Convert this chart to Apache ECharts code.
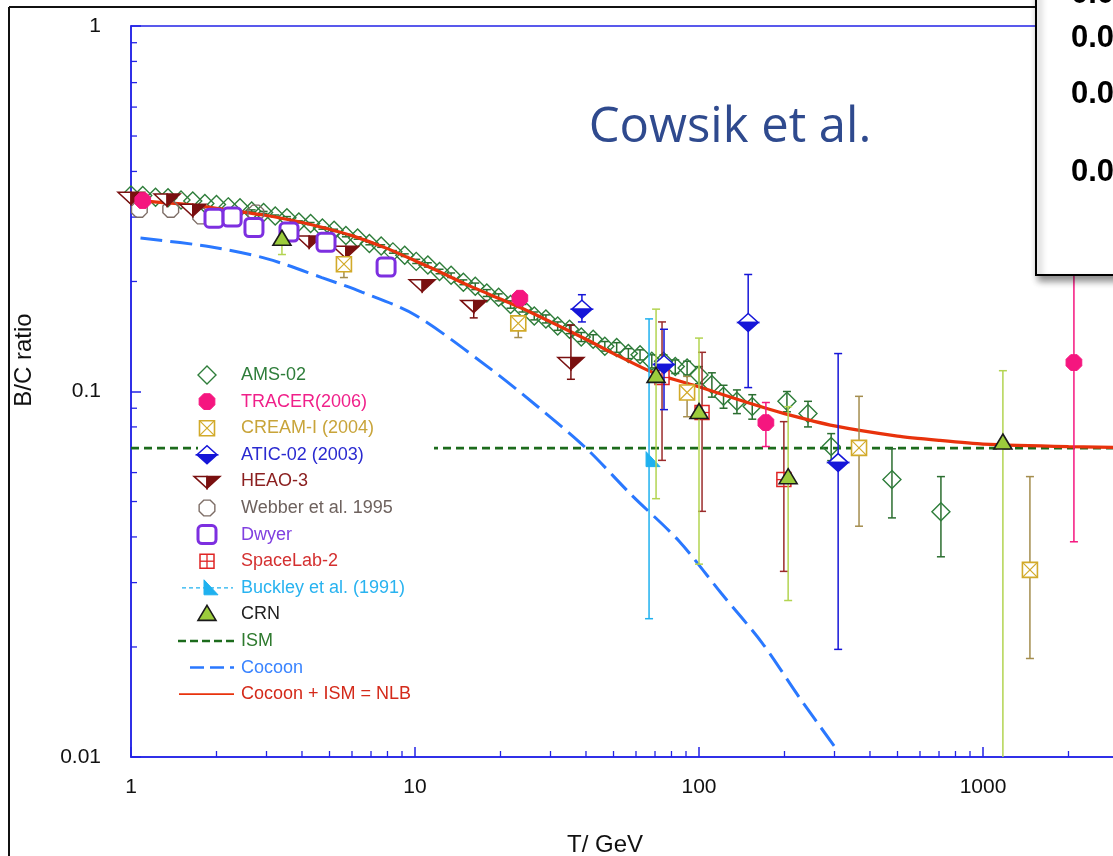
<!DOCTYPE html>
<html>
<head>
<meta charset="utf-8">
<script src="https://cdn.jsdelivr.net/npm/echarts@6/dist/echarts.min.js"></script>
<style>
html,body{margin:0;padding:0;background:#fff;overflow:hidden}
#chart{width:1113px;height:856px}
</style>
</head>
<body>
<div id="chart"></div>
<script>
// ---- tick labels ----
const xTickLabels = ['1', '10', '100', '1000', '10000'];
const yTickLabels = ['0.01', '0.1', '1'];

// ---- measurements: [T (GeV), B/C, lower, upper] ----
// AMS-02 rows are [T, B/C, symmetric error]
const ams02 = [
  [1.0,0.345,0.002],[1.1,0.344,0.002],[1.22,0.340,0.002],[1.35,0.339,0.002],[1.5,0.334,0.002],
  [1.65,0.332,0.002],[1.82,0.327,0.002],[2.0,0.325,0.002],[2.2,0.320,0.002],[2.42,0.318,0.002],
  [2.66,0.312,0.002],[2.93,0.309,0.002],[3.22,0.302,0.002],[3.54,0.299,0.002],[3.9,0.291,0.002],
  [4.29,0.288,0.002],[4.72,0.280,0.002],[5.19,0.276,0.002],[5.71,0.267,0.002],[6.28,0.263,0.002],
  [6.91,0.254,0.002],[7.6,0.250,0.002],[8.36,0.241,0.002],[9.2,0.236,0.002],[10.1,0.227,0.003],
  [11.1,0.222,0.003],[12.2,0.213,0.003],[13.4,0.208,0.003],[14.8,0.199,0.003],[16.3,0.194,0.004],
  [17.9,0.186,0.004],[19.7,0.181,0.004],[21.7,0.173,0.004],[23.9,0.169,0.004],[26.3,0.161,0.004],
  [28.9,0.158,0.004],[31.8,0.151,0.004],[35.0,0.148,0.004],[38.5,0.141,0.004],[42.4,0.139,0.004],
  [46.6,0.133,0.004],[51.3,0.132,0.004],[56.4,0.127,0.004],[62.0,0.126,0.004],[68.2,0.121,0.005],
  [75.0,0.121,0.005],[82.5,0.117,0.005],[90.8,0.116,0.005],[100,0.111,0.006],[111,0.1045,0.008],
  [122,0.097,0.007],[136,0.094,0.007],[154,0.091,0.007],[204,0.094,0.006],[242,0.087,0.007],
  [292,0.0707,0.006],[478,0.0574,0.0123],[711,0.0469,0.0116]
];
const tracer = [[1.1,0.333,0.333,0.333],[23.4,0.180,0.180,0.180],[172,0.0822,0.0707,0.0933],[2090,0.120,0.0388,0.25]];
const creamI = [[5.62,0.223,0.205,0.229],[23.1,0.1536,0.1405,0.158],[90.8,0.0994,0.0853,0.110],[366,0.0701,0.0428,0.097],[1463,0.0325,0.0186,0.0585]];
const atic02 = [[38.7,0.168,0.155,0.184],[75.3,0.1186,0.0892,0.148],[149,0.1545,0.1025,0.209],[309,0.0639,0.0197,0.127]];
const heao3 = [[1.0,0.340,0.340,0.340],[1.34,0.336,0.336,0.336],[1.65,0.315,0.315,0.315],[4.24,0.258,0.258,0.258],[5.71,0.242,0.242,0.242],[10.6,0.196,0.196,0.196],[16.1,0.172,0.159,0.172],[35.4,0.120,0.108,0.152]];
const webber = [[1.07,0.315,0.315,0.315],[1.38,0.315,0.315,0.315],[1.76,0.302,0.302,0.302],[2.75,0.308,0.308,0.308]];
const dwyer = [[1.96,0.298,0.298,0.298],[2.27,0.300,0.300,0.300],[2.71,0.281,0.281,0.281],[3.60,0.273,0.273,0.273],[4.86,0.256,0.256,0.256],[7.91,0.219,0.219,0.219]];
const spacelab2 = [[74.1,0.1092,0.0648,0.155],[102.5,0.0876,0.0470,0.128],[199,0.0574,0.0322,0.0827]];
const buckley = [[66.7,0.0651,0.0239,0.158]];
const crn = [[3.40,0.261,0.237,0.261],[70.6,0.110,0.0509,0.168],[100,0.0876,0.0337,0.140],[206,0.0581,0.0268,0.0909],[1175,0.0723,0.01,0.114]];

// ---- model curves: [T, B/C] ----
const ismLevel = [[1,0.07],[10000,0.07]];
const cocoon = [[1.08,0.263],[1.9,0.249],[3,0.231],[4.7,0.205],[6.5,0.187],[10,0.162],[18,0.117],[27,0.091],[40,0.070],[58,0.052],[85,0.039],[120,0.028],[167,0.0205],[225,0.0146],[305,0.0105]];
const nlb = [[1,0.334],[1.5,0.326],[2,0.317],[3,0.303],[4,0.290],[5,0.278],[6,0.267],[8,0.246],[10,0.228],[12,0.214],[15,0.197],[20,0.179],[25,0.166],[30,0.155],[40,0.139],[50,0.127],[70,0.112],[100,0.103],[150,0.093],[200,0.087],[300,0.0805],[500,0.0755],[700,0.0735],[1000,0.0718],[2000,0.0707],[5000,0.0700],[10000,0.0700]];

// ---- styling ----
const FONT = '"Liberation Sans", Arial, sans-serif';
const AXIS = '#2323e6';
const C = {
  ams:'#2e7d3a', amsBar:'#2b6e30', tracer:'#f5167f', cream:'#d2aa2a', creamBar:'#a48d4e',
  atic:'#1616d8', heao:'#7a1010', webber:'#7d6d66', dwyer:'#7d2fe0', spacelab:'#e02424',
  spacelabBar:'#9b2b2b', buckley:'#1fb1ef', crn:'#9ccc3c', crnBar:'#b3d451',
  ism:'#1c6b1c', cocoon:'#2a78ff', nlb:'#e8320c'
};

function oct(x, y, r) {
  const pts = [];
  for (let i = 0; i < 8; i++) {
    const a = (i * 45 + 22.5) * Math.PI / 180;
    pts.push([x + r * Math.cos(a), y + r * Math.sin(a)]);
  }
  return pts;
}
function ln(x1, y1, x2, y2, color, w, dash) {
  const s = {stroke: color, lineWidth: w};
  if (dash) s.lineDash = dash;
  return {type:'line', shape:{x1, y1, x2, y2}, style: s};
}

// marker shapes, centred on (x, y)
const MARKS = {
  ams: (x,y)=>[{type:'polygon',shape:{points:[[x,y-9],[x+9,y],[x,y+9],[x-9,y]]},style:{fill:'none',stroke:C.ams,lineWidth:1.4}}],
  tracer: (x,y)=>[{type:'polygon',shape:{points:oct(x,y,8.5)},style:{fill:C.tracer,stroke:C.tracer,lineWidth:1}}],
  cream: (x,y)=>[
    {type:'rect',shape:{x:x-7.5,y:y-7.5,width:15,height:15},style:{fill:'#fff',stroke:C.cream,lineWidth:1.6}},
    ln(x-7.5,y-7.5,x+7.5,y+7.5,C.cream,1.2), ln(x+7.5,y-7.5,x-7.5,y+7.5,C.cream,1.2)],
  atic: (x,y)=>[
    {type:'polygon',shape:{points:[[x-10,y],[x,y-9],[x+10,y]]},style:{fill:'#fff',stroke:C.atic,lineWidth:1.5}},
    {type:'polygon',shape:{points:[[x-10,y],[x+10,y],[x,y+9]]},style:{fill:C.atic,stroke:C.atic,lineWidth:1.5}}],
  heao: (x,y)=>[
    {type:'polygon',shape:{points:[[x-13,y-5],[x,y-5],[x,y+7]]},style:{fill:'#fff',stroke:C.heao,lineWidth:1.5}},
    {type:'polygon',shape:{points:[[x,y-5],[x+13,y-5],[x,y+7]]},style:{fill:C.heao,stroke:C.heao,lineWidth:1.5}}],
  webber: (x,y)=>[{type:'polygon',shape:{points:oct(x,y,8.5)},style:{fill:'none',stroke:C.webber,lineWidth:1.4}}],
  dwyer: (x,y)=>[{type:'rect',shape:{x:x-9,y:y-9,width:18,height:18,r:4},style:{fill:'#fff',stroke:C.dwyer,lineWidth:3}}],
  spacelab: (x,y)=>[
    {type:'rect',shape:{x:x-7,y:y-7,width:14,height:14},style:{fill:'#fff',stroke:C.spacelab,lineWidth:1.5}},
    ln(x-7,y,x+7,y,C.spacelab,1.3), ln(x,y-7,x,y+7,C.spacelab,1.3)],
  buckley: (x,y)=>[{type:'polygon',shape:{points:[[x-3,y-8],[x-3,y+7],[x+11,y+7]]},style:{fill:C.buckley,stroke:C.buckley,lineWidth:1}}],
  crn: (x,y)=>[{type:'polygon',shape:{points:[[x,y-9],[x+9,y+6],[x-9,y+6]]},style:{fill:C.crn,stroke:'#1a1a1a',lineWidth:1.6}}]
};

// points with vertical error bars, placed through the axes' own scales
function pointSeries(name, rows, mark, barColor, z) {
  return {
    type:'custom', name, coordinateSystem:'cartesian2d', data: rows,
    encode:{x:0, y:1}, clip:false, z, silent:true,
    renderItem:(params, api)=>{
      const t = api.value(0);
      const p = api.coord([t, api.value(1)]);
      const lo = api.coord([t, api.value(2)]);
      const hi = api.coord([t, api.value(3)]);
      const els = [];
      if (lo[1] - hi[1] > 2) {
        els.push(ln(p[0], hi[1], p[0], lo[1], barColor, 1.5));
        els.push(ln(p[0]-4, hi[1], p[0]+4, hi[1], barColor, 1.5));
        if (api.value(2) > 0.0101) els.push(ln(p[0]-4, lo[1], p[0]+4, lo[1], barColor, 1.5));
      }
      return {type:'group', children: els.concat(mark(p[0], p[1]))};
    }
  };
}

// minor ticks of the log axes (2..9 within each decade)
const xMinor = [], yMinor = [];
[1, 10, 100, 1000].forEach(d => { for (let k = 2; k <= 9; k++) xMinor.push([k*d, 0.01]); });
[0.01, 0.1].forEach(d => { for (let k = 2; k <= 9; k++) yMinor.push([1, +(k*d).toFixed(3)]); });

const chart = echarts.init(document.getElementById('chart'), null, {renderer:'canvas'});

// legend rows
const legendRows = [
  ['AMS-02', 'ams', '#2e7d3a'],
  ['TRACER(2006)', 'tracer', '#f0208a'],
  ['CREAM-I (2004)', 'cream', '#c8a43a'],
  ['ATIC-02 (2003)', 'atic', '#2a2ad0'],
  ['HEAO-3', 'heao', '#8b2020'],
  ['Webber et al. 1995', 'webber', '#6e625e'],
  ['Dwyer', 'dwyer', '#8040e0'],
  ['SpaceLab-2', 'spacelab', '#d43030'],
  ['Buckley et al. (1991)', 'buckley', '#29b3f0'],
  ['CRN', 'crn', '#222222'],
  ['ISM', 'ism', '#2e7a2e'],
  ['Cocoon', 'cocoon', '#3a84ff'],
  ['Cocoon + ISM = NLB', 'nlb', '#d42a1a']
];
const legendEls = [{type:'rect', shape:{x:198, y:362, width:236, height:344}, style:{fill:'#fff'}}];
legendRows.forEach((r, i) => {
  const y = 375 + i * 26.6;
  const sx = 207;
  if (r[1] === 'ism') legendEls.push(ln(178, y, 234, y, C.ism, 2.5, [8, 4]));
  else if (r[1] === 'cocoon') legendEls.push(ln(190, y, 234, y, C.cocoon, 2.5, [14, 6]));
  else if (r[1] === 'nlb') legendEls.push(ln(179, y, 234, y, C.nlb, 1.8));
  else {
    if (r[1] === 'buckley') legendEls.push(ln(182, y, 233, y, C.buckley, 1.2, [4, 3]));
    MARKS[r[1]](sx, y).forEach(e => legendEls.push(e));
  }
  legendEls.push({type:'text', x:241, y, style:{text:r[0], fill:r[2], font:'18px ' + FONT, textVerticalAlign:'middle'}});
});
legendEls.forEach(e => { e.z = 100; });

const insetFont = 'bold 31px ' + FONT;
const insetEls = [
  {type:'rect', shape:{x:1036, y:-20, width:200, height:295}, style:{fill:'#fff', stroke:'#000', lineWidth:2, shadowBlur:7, shadowOffsetX:3, shadowOffsetY:5, shadowColor:'rgba(0,0,0,0.45)'}, z:110},
  {type:'text', x:1071, y:-6, style:{text:'0.08', fill:'#000', font:insetFont, textVerticalAlign:'middle'}, z:111},
  {type:'text', x:1071, y:38, style:{text:'0.06', fill:'#000', font:insetFont, textVerticalAlign:'middle'}, z:111},
  {type:'text', x:1071, y:94, style:{text:'0.04', fill:'#000', font:insetFont, textVerticalAlign:'middle'}, z:111},
  {type:'text', x:1071, y:172, style:{text:'0.02', fill:'#000', font:insetFont, textVerticalAlign:'middle'}, z:111}
];

const option = {
  animation:false,
  backgroundColor:'#fff',
  grid:{left:131, top:26, width:1136, height:731, containLabel:false, outerBoundsMode:'none',
        show:true, borderColor:AXIS, borderWidth:1.5, backgroundColor:'transparent'},
  xAxis:{
    type:'log', logBase:10, min:1, max:10000,
    axisLine:{lineStyle:{color:AXIS, width:1.5}},
    axisTick:{inside:true, length:10, lineStyle:{color:AXIS, width:1.5}},
    axisLabel:{fontSize:21, color:'#111', margin:20, fontFamily:FONT, formatter:(v, i)=>xTickLabels[i]},
    splitLine:{show:false}
  },
  yAxis:{
    type:'log', logBase:10, min:0.01, max:1,
    axisLine:{lineStyle:{color:AXIS, width:1.5}},
    axisTick:{inside:true, length:10, lineStyle:{color:AXIS, width:1.5}},
    axisLabel:{fontSize:21, color:'#111', margin:30, fontFamily:FONT, formatter:(v, i)=>yTickLabels[i]},
    splitLine:{show:false}
  },
  series:[
    {type:'custom', data:xMinor, encode:{x:0,y:1}, z:1, silent:true,
      renderItem:(p, api)=>{ const c = api.coord([api.value(0), api.value(1)]); return ln(c[0], c[1], c[0], c[1]-6, AXIS, 1.3); }},
    {type:'custom', data:yMinor, encode:{x:0,y:1}, z:1, silent:true,
      renderItem:(p, api)=>{ const c = api.coord([api.value(0), api.value(1)]); return ln(c[0], c[1], c[0]+6, c[1], AXIS, 1.3); }},
    {type:'line', name:'ISM', data:ismLevel, symbol:'none', z:2, silent:true,
      lineStyle:{color:C.ism, width:2.6, type:[8,5]}},
    {type:'line', name:'Cocoon', data:cocoon, symbol:'none', smooth:0.3, z:2, silent:true,
      lineStyle:{color:C.cocoon, width:3, type:[22,8]}},
    pointSeries('AMS-02', ams02.map(r => [r[0], r[1], r[1]-r[2], r[1]+r[2]]), MARKS.ams, C.amsBar, 3),
    {type:'line', name:'Cocoon + ISM = NLB', data:nlb, symbol:'none', smooth:0.2, z:4, silent:true,
      lineStyle:{color:C.nlb, width:3.2}},
    pointSeries('Webber et al. 1995', webber, MARKS.webber, C.webber, 5),
    pointSeries('HEAO-3', heao3, MARKS.heao, C.heao, 5),
    pointSeries('Dwyer', dwyer, MARKS.dwyer, C.dwyer, 6),
    pointSeries('SpaceLab-2', spacelab2, MARKS.spacelab, C.spacelabBar, 6),
    pointSeries('Buckley et al. (1991)', buckley, MARKS.buckley, C.buckley, 6),
    pointSeries('CREAM-I (2004)', creamI, MARKS.cream, C.creamBar, 7),
    pointSeries('ATIC-02 (2003)', atic02, MARKS.atic, C.atic, 7),
    pointSeries('CRN', crn, MARKS.crn, C.crnBar, 8),
    pointSeries('TRACER(2006)', tracer, MARKS.tracer, C.tracer, 8)
  ],
  graphic:{elements:[
    {type:'line', shape:{x1:9, y1:7, x2:1040, y2:7}, style:{stroke:'#111', lineWidth:2}, z:90},
    {type:'line', shape:{x1:9, y1:7, x2:9, y2:860}, style:{stroke:'#111', lineWidth:2}, z:90},
    {type:'text', x:730, y:128, style:{text:'Cowsik et al.', fill:'#2f4a8e', font:'49px "Open Sans", sans-serif', textAlign:'center', textVerticalAlign:'middle'}, z:90},
    {type:'text', x:605, y:845, style:{text:'T/ GeV', fill:'#111', font:'24px ' + FONT, textAlign:'center', textVerticalAlign:'middle'}, z:90},
    {type:'text', x:24, y:360, rotation:Math.PI/2, style:{text:'B/C ratio', fill:'#111', font:'24px ' + FONT, textAlign:'center', textVerticalAlign:'middle'}, z:90},
    {type:'group', children:legendEls, z:100},
    {type:'group', children:insetEls, z:110}
  ]}
};
chart.setOption(option);
</script>
</body>
</html>
